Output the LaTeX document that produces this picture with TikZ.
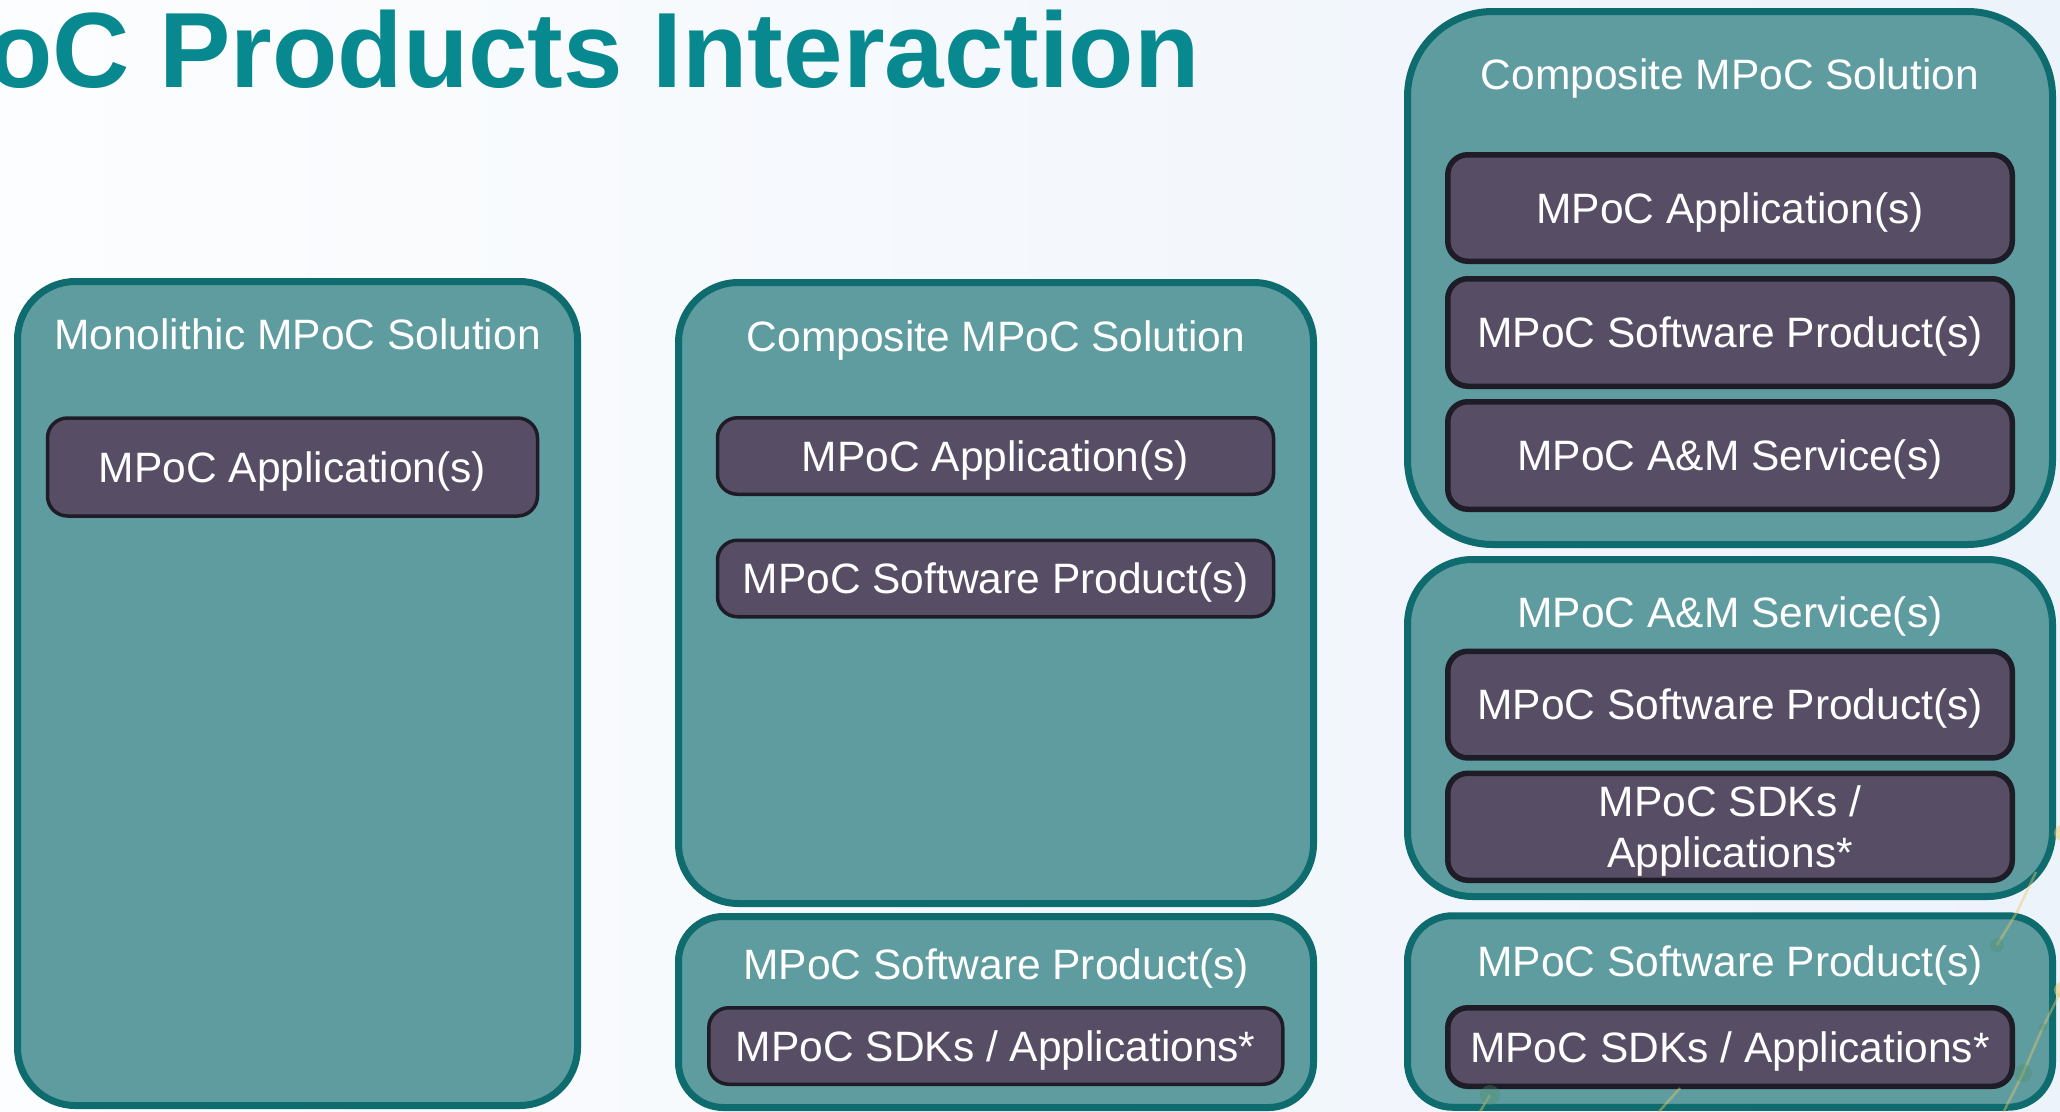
\documentclass[tikz,border=0pt]{standalone}
\usepackage{fontspec}
\setmainfont{Liberation Sans}

\definecolor{bgL}{HTML}{FCFDFE}
\definecolor{bgR}{HTML}{EDF3FB}
\definecolor{tealfill}{HTML}{5F9CA0}
\definecolor{tealline}{HTML}{0E6B6E}
\definecolor{plumfill}{HTML}{574E66}
\definecolor{plumline}{HTML}{1E1C26}
\definecolor{headteal}{HTML}{08898F}
\definecolor{netyellow}{HTML}{E6C86A}
\definecolor{netgreen}{HTML}{4E8F6A}

\newcommand\boxfont{\fontsize{42.5}{51}\selectfont}

\begin{document}
\begin{tikzpicture}[x=1pt,y=-1pt,
  outerbox/.style={draw=tealline, fill=tealfill, line width=7pt,
    rounded corners=#1, inner sep=0pt, outer sep=0pt},
  innerbox/.style={draw=plumline, fill=plumfill, line width=3.5pt,
    rounded corners=20pt, inner sep=0pt, text=white, font=\boxfont,
    text height=30.4pt, text depth=0pt},
  thickinner/.style={innerbox, line width=5.5pt},
  caption/.style={anchor=base, text=white, font=\boxfont, inner sep=0pt},
  netline/.style={netyellow, line width=2.5pt, opacity=0.45},
  netdot/.style={fill=netgreen, opacity=0.35}]

% page and background
\useasboundingbox (0,0) rectangle (2060,1111);
\clip (0,0) rectangle (2060,1111);
\shade[left color=bgL, right color=bgR] (0,0) rectangle (2060,1111);

% heading
\node[anchor=base east, inner sep=0pt, text=headteal,
      font=\fontsize{107}{107}\selectfont\bfseries] (title) at (1200,87)
      {MPoC Products Interaction};

% monolithic solution
\node[outerbox=58pt, minimum width=560pt, minimum height=824pt] (mono) at (297.5,693.5) {};
\node[caption] (monoT) at (297.5,349.5) {Monolithic MPoC Solution};
\node[innerbox, minimum width=490pt, minimum height=98pt] (monoApp) at (292.5,467) {MPoC Application(s)};

% composite solution over a software product
\node[outerbox=60pt, minimum width=635pt, minimum height=621pt] (compA) at (996,593) {};
\node[caption] (compAT) at (996,351) {Composite MPoC Solution};
\node[innerbox, minimum width=556pt, minimum height=76.5pt] (compAApp) at (995.5,456) {MPoC Application(s)};
\node[innerbox, minimum width=556pt, minimum height=76.5pt] (compASw) at (995.5,578.5) {MPoC Software Product(s)};

\node[outerbox=45pt, minimum width=635pt, minimum height=191pt] (swA) at (996,1012) {};
\node[caption] (swAT) at (996,979) {MPoC Software Product(s)};
\node[innerbox, minimum width=574pt, minimum height=76.5pt] (swASdk) at (995.75,1046) {MPoC SDKs / Applications*};

% composite solution with A&M service
\node[outerbox=85pt, minimum width=645pt, minimum height=533pt] (compB) at (1730,278) {};
\node[caption] (compBT) at (1730,89) {Composite MPoC Solution};
\node[thickinner, minimum width=564.5pt, minimum height=106.5pt] (compBApp) at (1730,208) {MPoC Application(s)};
\node[thickinner, minimum width=564.5pt, minimum height=107.5pt] (compBSw) at (1730,332.5) {MPoC Software Product(s)};
\node[thickinner, minimum width=564.5pt, minimum height=107.5pt] (compBAm) at (1730,455.5) {MPoC A\&M Service(s)};

\node[outerbox=65pt, minimum width=645pt, minimum height=337pt] (amB) at (1730,728) {};
\node[caption] (amBT) at (1730,627) {MPoC A\&M Service(s)};
\node[thickinner, minimum width=564.5pt, minimum height=106.7pt] (amBSw) at (1730,704.6) {MPoC Software Product(s)};
\node[thickinner, text height={}, align=center, minimum width=564.5pt, minimum height=107pt] (amBSdk) at (1730,826.75) {MPoC SDKs /\\Applications*};

\node[outerbox=45pt, minimum width=645pt, minimum height=191.5pt] (swB) at (1730,1011.5) {};
\node[caption] (swBT) at (1730,976) {MPoC Software Product(s)};
\node[thickinner, minimum width=564.5pt, minimum height=78.5pt] (swBSdk) at (1730,1047) {MPoC SDKs / Applications*};

% faint network ornament, lower right
\draw[netline] (2036,872) -- (2017,912) -- (1997,945);
\draw[netline] (2064,985) -- (2043,1027) -- (2023,1073) -- (2002,1115);
\draw[netline] (1478,1115) -- (1490,1095);
\draw[netline] (1656,1115) -- (1680,1088);
\fill[netdot] (1997,945) circle (7pt);
\fill[netdot] (2043,1027) circle (4pt);
\fill[netdot] (2023,1073) circle (9pt);
\fill[netdot] (1490,1095) circle (10pt);
\fill[netyellow, opacity=0.5] (2062,833) circle (8pt);
\fill[netyellow, opacity=0.5] (2062,990) circle (8pt);
\end{tikzpicture}
\end{document}
